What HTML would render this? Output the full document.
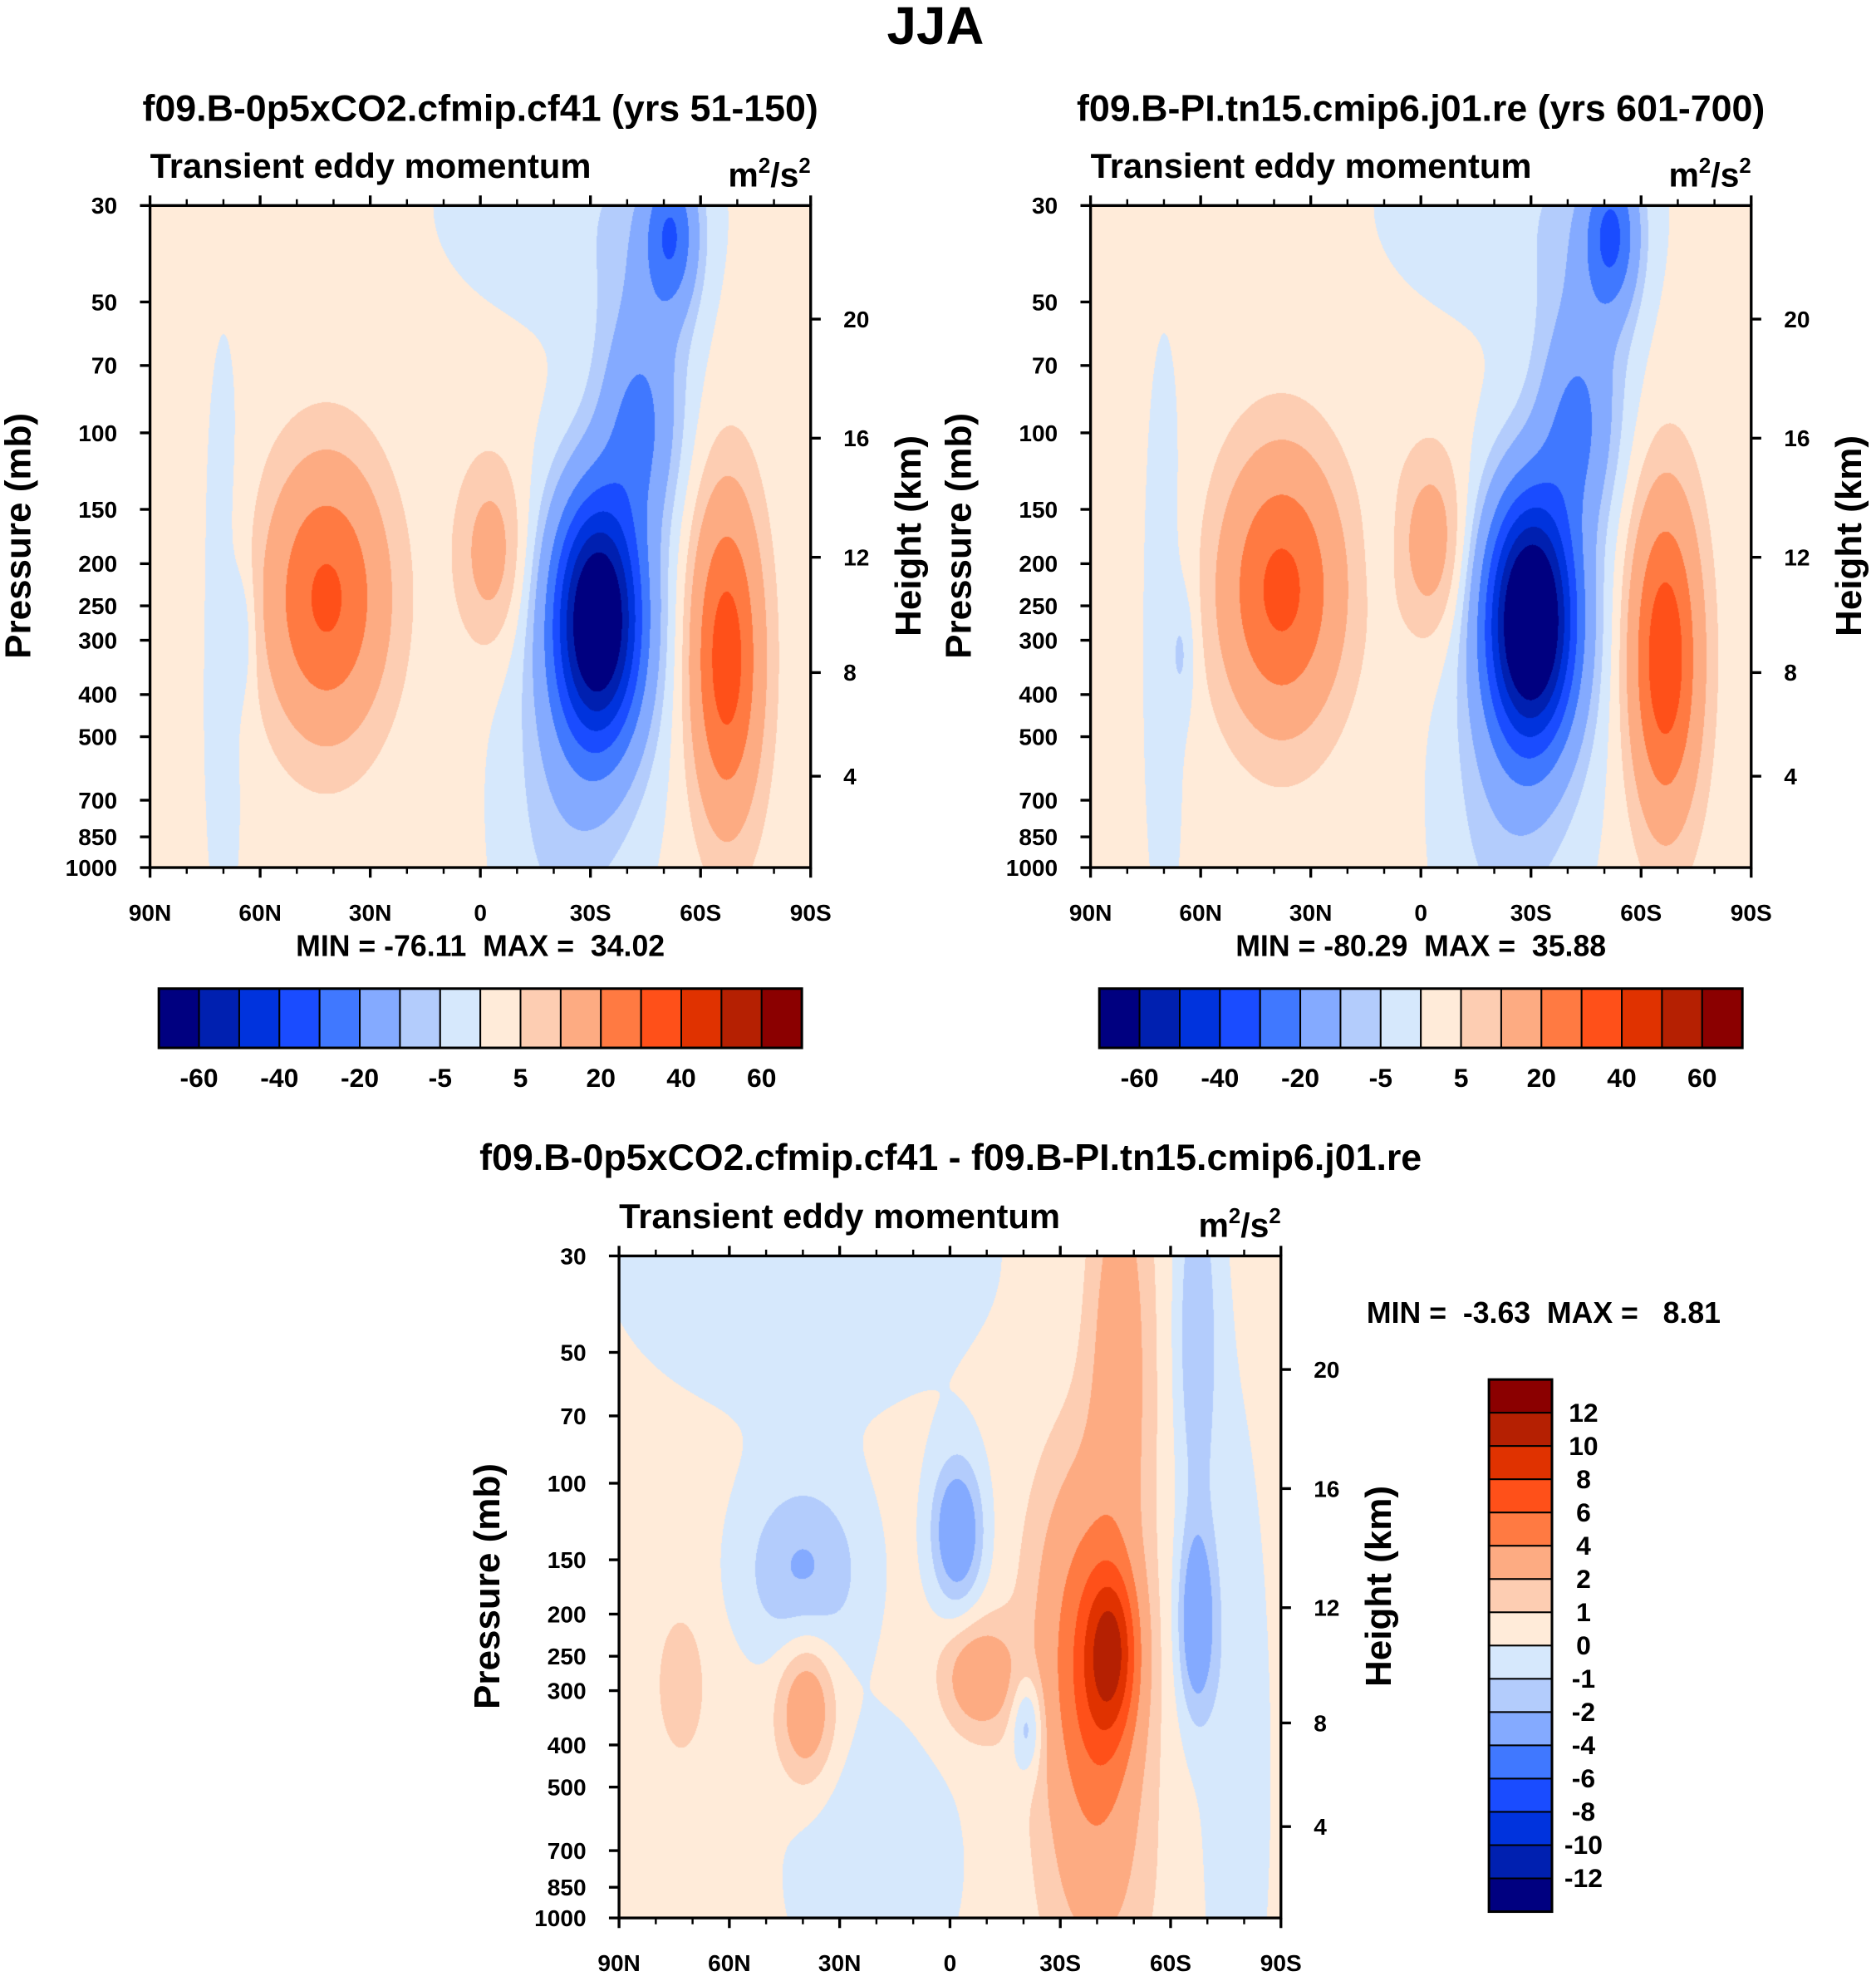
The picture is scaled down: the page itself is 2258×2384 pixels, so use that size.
<!DOCTYPE html>
<html><head><meta charset="utf-8">
<style>
html,body{margin:0;padding:0;background:#fff;}
#wrap{position:relative;width:2258px;height:2384px;overflow:hidden;}
canvas,svg{position:absolute;left:0;top:0;}
svg text{font-family:"Liberation Sans",Arial,sans-serif;font-weight:bold;fill:#000;}
</style></head>
<body>
<div id="wrap">
<canvas id="cv" width="2258" height="2384"></canvas>
<svg id="sv" width="2258" height="2384" viewBox="0 0 1488 1571" preserveAspectRatio="none"></svg>
</div>
<script>
// ---- data: gaussian components (lat deg, pressure mb, amplitude, lat width, log10p width) ----
const levelsTop = [-60,-50,-40,-30,-20,-10,-5,0,5,10,20,30,40,50,60];
const levelsBot = [-12,-10,-8,-6,-4,-2,-1,0,1,2,4,6,8,10,12];
const colors = ["#000080","#0020b0","#0033dd","#1a4cff","#4078ff","#84aaff","#b3ccfc","#d6e8fc","#ffebd9","#fdcdb2","#fdab82","#ff7a42","#ff5019","#e03200","#b52002","#8b0000"];
const pressTicks = [30,50,70,100,150,200,250,300,400,500,700,850,1000];
const kmTicks = [4,8,12,16,20];
const latTicks = [90,60,30,0,-30,-60,-90];
const latTickLabels = ["90N","60N","30N","0","30S","60S","90S"];

const cfLat = [-32,-52,-43,-45,42,-67,-3,65,-25,70,-20,-30];
const cfP   = [270,35,100,60,240,330,190,290,30,300,800,400];
const cfAmp = [-76,-26,-16,-10,30,34,12,-6,-5,-4,-5,-6];
const cfSL  = [8.5,5,7,9,11,6.5,6.5,2.5,28,5,12,14];
const cfSZ  = [0.2,0.12,0.15,0.25,0.21,0.25,0.15,0.1,0.2,0.6,0.3,0.4];
const cfBase = 2;

const piLat = [-30,-52,-42,-45,38,-66.5,-3,65,-25,70,-20,11,-30];
const piP   = [270,35,100,60,230,330,180,320,30,300,800,170,400];
const piAmp = [-82,-28,-16,-10,31,36,13,-6,-5,-4,-5,-3,-6];
const piSL  = [8.5,5,7,9,11,6.5,6.5,2.5,28,5,12,2.5,14];
const piSZ  = [0.2,0.12,0.15,0.25,0.21,0.25,0.15,0.1,0.2,0.6,0.3,0.12,0.4];
const piBase = 2;

const dfLat = [-44,-36,-46,-40,39,73,-8,-2,-67,-67,40,-21,40,21,-80,-42,-75];
const dfP   = [240,230,50,800,330,290,280,130,210,45,160,360,30,750,500,350,300];
const dfAmp = [6.5,4.0,2.6,1.6,3.2,1.5,3.0,-4.0,-3.6,-2.2,-2.6,-2.6,-1.25,-1.3,-0.8,2.5,-0.7];
const dfSL  = [5,9,6,10,5.5,4,7,5,3.5,4,12,3,40,18,5,7,8];
const dfSZ  = [0.13,0.28,0.35,0.2,0.12,0.1,0.09,0.12,0.15,0.3,0.15,0.08,0.28,0.25,0.4,0.18,0.8];
const dfBase = 0.5;

const panels = [
 {x:119,y:163,w:524,h:525,lat:cfLat,p:cfP,a:cfAmp,sl:cfSL,sz:cfSZ,base:cfBase,lev:levelsTop},
 {x:865,y:163,w:524,h:525,lat:piLat,p:piP,a:piAmp,sl:piSL,sz:piSZ,base:piBase,lev:levelsTop},
 {x:491,y:996,w:525,h:525,lat:dfLat,p:dfP,a:dfAmp,sl:dfSL,sz:dfSZ,base:dfBase,lev:levelsBot}
];
const S = 2258/1488;
const LP0 = Math.log10(30), LP1 = 3;

function hex(c){return [parseInt(c.slice(1,3),16),parseInt(c.slice(3,5),16),parseInt(c.slice(5,7),16)];}
const rgb = colors.map(hex);

// ---- fill fields ----
const cv = document.getElementById('cv'), ctx = cv.getContext('2d');
panels.forEach(P=>{
  const X0=Math.round(P.x*S), Y0=Math.round(P.y*S), X1=Math.round((P.x+P.w)*S), Y1=Math.round((P.y+P.h)*S);
  const W=X1-X0, H=Y1-Y0;
  const img = ctx.createImageData(W,H);
  const lp0 = P.p.map(v=>Math.log10(v));
  for(let j=0;j<H;j++){
    const lp = LP0 + (j+0.5)/H*(LP1-LP0);
    for(let i=0;i<W;i++){
      const lat = 90 - (i+0.5)/W*180;
      let v = P.base;
      for(let k=0;k<P.a.length;k++){
        const dl=(lat-P.lat[k])/P.sl[k], dz=(lp-lp0[k])/P.sz[k];
        v += P.a[k]*Math.exp(-0.5*(dl*dl+dz*dz));
      }
      let idx=0; while(idx<P.lev.length && v>=P.lev[idx]) idx++;
      const c=rgb[idx], o=(j*W+i)*4;
      img.data[o]=c[0];img.data[o+1]=c[1];img.data[o+2]=c[2];img.data[o+3]=255;
    }
  }
  ctx.putImageData(img,X0,Y0);
});

// ---- overlay ----
const sv = document.getElementById('sv');
const NS="http://www.w3.org/2000/svg";
function el(tag,attrs,parent,txt){
  const e=document.createElementNS(NS,tag);
  for(const k in attrs) e.setAttribute(k,attrs[k]);
  if(txt!==undefined) e.textContent=txt;
  (parent||sv).appendChild(e); return e;
}
function stdP(z){ return z<=11 ? 1013.25*Math.pow(1-0.0065*z*1000/288.15,5.2559) : 226.32*Math.exp(-(z-11)/6.3416); }

function axes(P,pi){
  const g=el('g',{});
  
  
  const yOf=p=>P.y+(Math.log10(p)-LP0)/(LP1-LP0)*P.h;
  const xOf=l=>P.x+(90-l)/180*P.w;
  const fr=el('rect',{x:P.x,y:P.y,width:P.w,height:P.h,fill:'none',stroke:'#000','stroke-width':2.2},g);
  
  
  for(let l=90;l>=-90;l-=10){
    const x=xOf(l), major=(l%30===0), len=major?8:5;
    el('line',{x1:x,y1:P.y+P.h,x2:x,y2:P.y+P.h+len,stroke:'#000','stroke-width':major?2.2:1.6},g);
    el('line',{x1:x,y1:P.y,x2:x,y2:P.y-len,stroke:'#000','stroke-width':major?2.2:1.6},g);
  }
  latTicks.forEach((l,i)=>{
    const t=el('text',{x:xOf(l),y:P.y+P.h+42,'font-size':18.5,'text-anchor':'middle'},g,latTickLabels[i]);
    
    
  });
  pressTicks.forEach(p=>{
    const y=yOf(p);
    el('line',{x1:P.x,y1:y,x2:P.x-8,y2:y,stroke:'#000','stroke-width':2.2},g);
    const t=el('text',{x:P.x-26,y:y+6.5,'font-size':18.5,'text-anchor':'end'},g,String(p));
    
    
  });
  kmTicks.forEach(z=>{
    const y=yOf(stdP(z));
    el('line',{x1:P.x+P.w,y1:y,x2:P.x+P.w+8,y2:y,stroke:'#000','stroke-width':2.2},g);
    const t=el('text',{x:P.x+P.w+26,y:y+6.5,'font-size':18.5},g,String(z));
    
    
  });
  const yt=el('text',{x:0,y:0,'font-size':29,'text-anchor':'middle',transform:`translate(${P.x-95},${P.y+262}) rotate(-90)`},g,'Pressure (mb)');
  
  
  const ht=el('text',{x:0,y:0,'font-size':29,'text-anchor':'middle',transform:`translate(${P.x+P.w+87},${P.y+262}) rotate(-90)`},g,'Height (km)');
  
  
  const st=el('text',{x:P.x,y:P.y-22,'font-size':27.5},g,'Transient eddy momentum');
  
  
  const un=el('text',{x:P.x+P.w,y:P.y-15,'font-size':27,'text-anchor':'end'},g);
  
  
  un.innerHTML='m<tspan dy="-11" font-size="17">2</tspan><tspan dy="11">/s</tspan><tspan dy="-11" font-size="17">2</tspan>';
}
panels.forEach((P,i)=>axes(P,i));

function txt(x,y,s,str,anchor,name){
  const t=el('text',{x:x,y:y,'font-size':s,'text-anchor':anchor||'middle'},sv,str);
  
  
  t.style.whiteSpace='pre';
  return t;
}
txt(742,35,42,'JJA','middle','figure-title');
txt(381,96,29.5,'f09.B-0p5xCO2.cfmip.cf41 (yrs 51-150)','middle','left-panel-title');
txt(1127,96,29.5,'f09.B-PI.tn15.cmip6.j01.re (yrs 601-700)','middle','right-panel-title');
txt(754,928,29.5,'f09.B-0p5xCO2.cfmip.cf41 - f09.B-PI.tn15.cmip6.j01.re','middle','difference-panel-title');
txt(381,758,23.5,'MIN = -76.11  MAX =  34.02','middle','left-min-max');
txt(1127,758,23.5,'MIN = -80.29  MAX =  35.88','middle','right-min-max');
txt(1084,1049,23.5,'MIN =  -3.63  MAX =   8.81','start','difference-min-max');

// horizontal colorbars
const hbarLabels=["-60","-40","-20","-5","5","20","40","60"];
[126,872].forEach((x0,bi)=>{
  const g=el('g',{});
  
  
  const w=(636-126)/16;
  colors.forEach((c,i)=>{
    const r=el('rect',{x:x0+i*w,y:784,width:w,height:47,fill:c,stroke:'#000','stroke-width':1.3},g);
    
    
  });
  el('rect',{x:x0,y:784,width:w*16,height:47,fill:'none',stroke:'#000','stroke-width':2},g);
  hbarLabels.forEach((s,i)=>{
    const t=el('text',{x:x0+(2*i+1)*w,y:862,'font-size':21,'text-anchor':'middle'},g,s);
    
    
  });
});
// vertical colorbar
{
  const g=el('g',{});
  
  
  const x0=1181,y0=1094,h=(1516-1094)/16;
  colors.slice().reverse().forEach((c,i)=>{
    const r=el('rect',{x:x0,y:y0+i*h,width:50,height:h,fill:c,stroke:'#000','stroke-width':1.3},g);
    
    
  });
  el('rect',{x:x0,y:y0,width:50,height:h*16,fill:'none',stroke:'#000','stroke-width':2},g);
  levelsBot.slice().reverse().forEach((v,i)=>{
    const t=el('text',{x:1256,y:y0+(i+1)*h+7,'font-size':21,'text-anchor':'middle'},g,String(v));
    
    
  });
}
</script>
</body></html>
